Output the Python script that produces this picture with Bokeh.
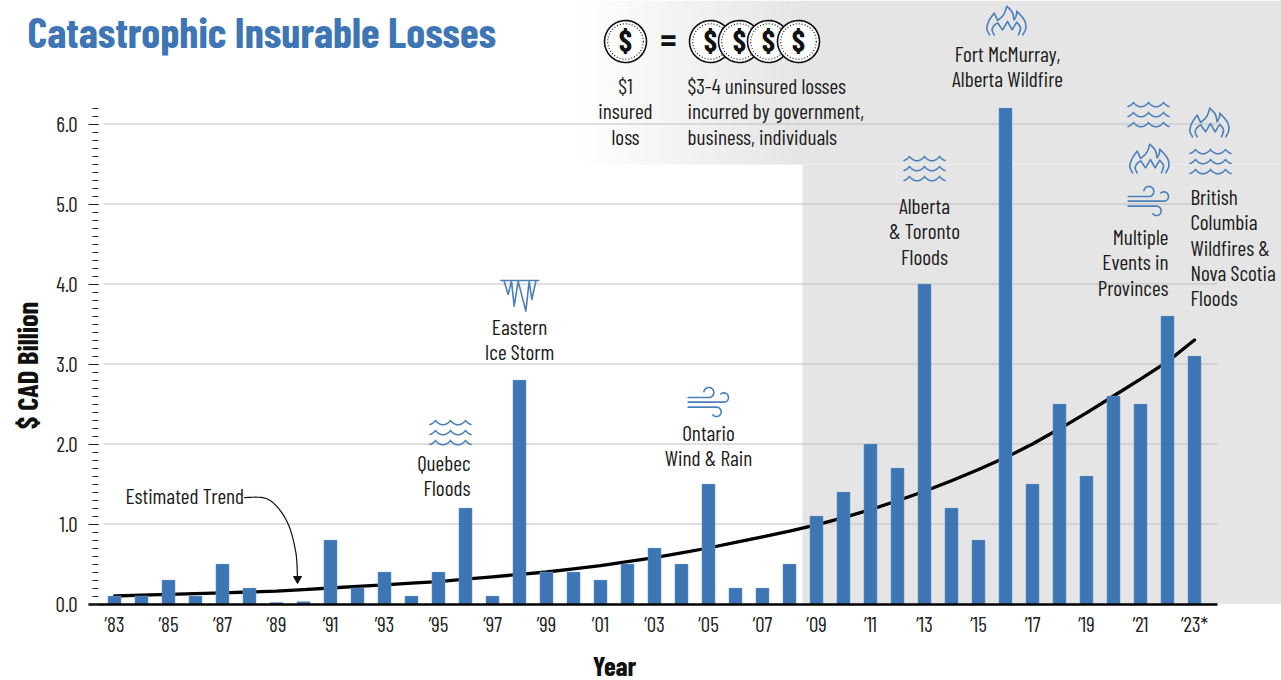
import numpy as np
from bokeh.plotting import figure
from bokeh.embed import file_html
from bokeh.resources import INLINE
from bokeh.models import (Range1d, FixedTicker, ColumnDataSource, BoxAnnotation, Label)
from bokeh.core.properties import value

years = list(range(1983, 2024))
losses = [0.1,0.1,0.3,0.1,0.5,0.2,0.02,0.03,0.8,0.2,0.4,0.1,0.4,1.2,0.1,2.8,0.4,0.4,0.3,0.5,0.7,0.5,1.5,0.2,0.2,0.5,
          1.1,1.4,2.0,1.7,4.0,1.2,0.8,6.2,1.5,2.5,1.6,2.6,2.5,3.6,3.1]
trend = [0.10,0.11,0.12,0.13,0.14,0.15,0.16,0.18,0.20,0.22,
         0.24,0.26,0.28,0.31,0.34,0.37,0.40,0.44,0.48,0.53,
         0.58,0.64,0.70,0.77,0.84,0.91,0.99,1.08,1.18,1.29,
         1.41,1.54,1.68,1.83,2.00,2.19,2.39,2.60,2.81,3.03,3.30]
x_tick_years = list(range(1983, 2024, 2))
x_tick_labels = ["\u201983","\u201985","\u201987","\u201989","\u201991","\u201993","\u201995","\u201997","\u201999","\u201901","\u201903","\u201905","\u201907","\u201909","\u201911","\u201913","\u201915","\u201917","\u201919","\u201921","\u201923*"]
y_ticks = [0,1,2,3,4,5,6]
y_minor = [round(i*0.1,1) for i in range(0,63)]

FONT = "Barlow Condensed"
BLUE = "#3d75b5"
ICON = "#4a7fbb"
GREY = "#e5e5e5"
W, H = 1281, 680
F_B = 603.5
PX_YEAR = 27.0
PX_UNIT = 80.0
def dx(px): return 1983 + (np.asarray(px, float) - 114)/PX_YEAR
def dy(py): return (F_B - np.asarray(py, float))/PX_UNIT

p = figure(width=W, height=H, output_backend="svg", toolbar_location=None,
           x_range=Range1d(float(dx(0)), float(dx(W))), y_range=Range1d(float(dy(H)), float(dy(0))),
           min_border_left=0, min_border_right=0, min_border_top=0, min_border_bottom=0,
           background_fill_color=None, border_fill_color=None, outline_line_color=None)
p.grid.visible = False

def sbox(l, r, t, b, c, level="underlay"):
    p.add_layout(BoxAnnotation(left=float(dx(l)), right=float(dx(r)), top=float(dy(t)), bottom=float(dy(b)),
                               fill_color=c, fill_alpha=1, line_color=None, level=level, editable=False))
sbox(802, W, 164, 603.5, GREY)
n = 40
for i in range(n):
    l = 574 + (802-574)*i/n
    r = 574 + (802-574)*(i+1)/n + 0.5
    t = i/(n-1)
    c = 255 - (255-229)*t
    hx = "#%02x%02x%02x" % (round(c), round(c), round(c))
    sbox(l, r, 0, 164, hx)
sbox(802, W, 0, 164, GREY)

gl_x0 = float(dx(103)); gl_x1 = float(dx(1217))
p.segment([gl_x0]*6, y_ticks[1:], [gl_x1]*6, y_ticks[1:], line_color="#c0c0c0", line_width=1.2)

src = ColumnDataSource(dict(year=years, loss=losses, trend=trend))
p.line("year", "trend", source=src, line_color="black", line_width=3.3, line_cap="round")
p.vbar(x="year", top="loss", bottom=0, width=0.49, source=src, fill_color=BLUE, line_color="#8fb2d9", line_width=0.6, line_alpha=0.6)

xa = p.xaxis[0]
xa.fixed_location = 0
xa.ticker = FixedTicker(ticks=x_tick_years)
xa.major_label_overrides = {y: s for y, s in zip(x_tick_years, x_tick_labels)}
xa.major_label_text_font = FONT
xa.major_label_text_font_size = "21px"
xa.major_label_text_color = "#222222"
xa.major_label_standoff = 1
xa.major_tick_line_color = None
xa.minor_tick_line_color = None
xa.axis_line_color = "black"
xa.axis_line_width = 2.4
xa.bounds = (float(dx(88)), float(dx(1217)))

ya = p.yaxis[0]
ya.fixed_location = float(dx(98))
ya.ticker = FixedTicker(ticks=y_ticks, minor_ticks=y_minor)
ya.major_label_overrides = {t: f"{t}.0" for t in y_ticks}
ya.major_label_text_font = FONT
ya.major_label_text_font_size = "21px"
ya.major_label_text_color = "#222222"
ya.major_label_standoff = 11
ya.axis_line_color = None
ya.major_tick_line_color = "#222222"
ya.major_tick_line_width = 1.2
ya.major_tick_out = 10
ya.major_tick_in = 0
ya.minor_tick_line_color = "#222222"
ya.minor_tick_line_width = 1.2
ya.minor_tick_out = 6
ya.minor_tick_in = 0

p.add_layout(Label(x=float(dx(27)), y=float(dy(30)), text="Catastrophic Insurable Losses",
                   text_font=FONT, text_font_style="bold", text_font_size="42.7px", text_color=BLUE,
                   text_baseline="middle", text_align="left"))
p.add_layout(Label(x=float(dx(614)), y=float(dy(664)), text="Year",
                   text_font=FONT, text_font_style="bold", text_font_size="27px", text_color="#111111",
                   text_baseline="middle", text_align="center"))
p.add_layout(Label(x=float(dx(25.5)), y=float(dy(365)), text="$ CAD Billion", angle=np.pi/2,
                   text_font=FONT, text_font_style="bold", text_font_size="28.5px", text_color="#111111",
                   text_baseline="middle", text_align="center"))

def txt(px, py, lines, align="center", size=21.3):
    for i, s in enumerate(lines):
        p.text([float(dx(px))], [float(dy(py - 2 + i*25.3))], text=[s], text_font=value(FONT),
               text_font_size=f"{size}px", text_color="#1c1c1c", text_align=align, text_baseline="middle")

txt(625, 87, ["$1", "insured", "loss"])
txt(687, 87, ["$3-4 uninsured losses", "incurred by government,", "business, individuals"], align="left")
txt(1007, 55, ["Fort McMurray,", "Alberta Wildfire"])
txt(924, 207, ["Alberta", "& Toronto", "Floods"])
txt(1168, 238, ["Multiple", "Events in", "Provinces"], align="right")
txt(1190, 198, ["British", "Columbia", "Wildfires &", "Nova Scotia", "Floods"], align="left")
txt(470, 464, ["Quebec", "Floods"], align="right")
txt(519, 328, ["Eastern", "Ice Storm"])
txt(708, 434, ["Ontario", "Wind & Rain"])
txt(125, 497, ["Estimated Trend"], align="left")

def spline(pts, k=10):
    pts = np.asarray(pts, float)
    P = np.vstack([pts[0], pts, pts[-1]])
    out = []
    for i in range(1, len(P)-2):
        for t in np.linspace(0, 1, k, endpoint=False):
            a, b, c, d = P[i-1], P[i], P[i+1], P[i+2]
            out.append(0.5*((2*b)+(-a+c)*t+(2*a-5*b+4*c-d)*t*t+(-a+3*b-3*c+d)*t**3))
    out.append(P[-2])
    return np.array(out)

def pieces(*parts):
    return np.vstack([spline(q) for q in parts])

def draw(polys, color=ICON, w=1.6):
    p.multi_line([list(dx(a[:,0])) for a in polys], [list(dy(a[:,1])) for a in polys],
                 line_color=color, line_width=w, line_join="round", line_cap="round")

def waves(cx, cy):
    polys = []
    for r in (-10, 0, 10):
        t = np.linspace(-1, 1, 161)*20.5
        y = np.abs(np.sin(t*np.pi/15))**0.8*4.5 - 2.2
        polys.append(np.column_stack([cx+t, cy+r+y]))
    draw(polys)

OUTER = pieces([(158,243),(150,224),(157,200),(172,178)], [(172,178),(177,188),(182,200)],
               [(182,200),(200,183),(210,157)], [(210,157),(226,175),(232,198)],
               [(232,198),(238,186),(240,172)], [(240,172),(262,198),(267,222),(258,243)])
INNER = pieces([(172,243),(166,228),(172,215),(183,207)], [(183,207),(190,218),(197,228)],
               [(197,228),(205,215),(212,203)], [(212,203),(219,216),(226,228)],
               [(226,228),(233,216),(240,205)], [(240,205),(251,222),(245,243)])
def flame(cx, cy):
    s = 1/3
    c = np.array([209,200])
    draw([(OUTER-c)*s + [cx,cy], (INNER-c)*s + [cx,cy]])

def arc(cx, cy, r, a0, a1):
    a = np.radians(np.linspace(a0, a1, 40))
    return np.column_stack([cx+r*np.cos(a), cy+r*np.sin(a)])

def wind(cx, cy):
    s = 1/3
    c = np.array([204,330])
    top = np.vstack([[(143,318),(205,318)], arc(205,303,15,90,-170)])
    mid = np.vstack([[(143,332),(250,332)], arc(250,318,14,90,-130)])
    bot = np.vstack([[(143,347),(228,347)], arc(228,361,14,-90,140)])
    draw([(a-c)*s+[cx,cy] for a in (top,mid,bot)])

def icicle(cx, top):
    s = 1/3
    pts = np.array([(310,30),(322,70),(332,30),(340,105),(352,30),(375,120),(385,30),(393,85),(405,30)], float)
    line = np.array([(300,28),(413,28)], float)
    c = np.array([356,28])
    draw([(pts-c)*s+[cx,top], (line-c)*s+[cx,top]])

def coin(cx, cy, r=21):
    a = arc(cx, cy, r, 0, 360)
    p.patch(list(dx(a[:,0])), list(dy(a[:,1])), fill_color="white", line_color="#111111", line_width=1.6)
    b = arc(cx, cy, r-3.2, 0, 360)
    p.line(list(dx(b[:,0])), list(dy(b[:,1])), line_color="#111111", line_width=1.2, line_dash="1 2")
    p.text([float(dx(cx))], [float(dy(cy-2))], text=["$"], text_font=value(FONT), text_font_style="bold", text_font_size="30px",
           text_color="#111111", text_align="center", text_baseline="middle")

waves(450, 432); waves(924, 168); waves(1148, 114); waves(1210, 161)
flame(1006, 20); flame(1149, 158); flame(1209, 122)
wind(708, 401); wind(1148, 200)
icicle(519, 280)
coin(625, 41)
for c in (710, 739, 768, 798):
    coin(c, 41)
p.text([float(dx(668))], [float(dy(37))], text=["="], text_font=value(FONT), text_font_style="bold", text_font_size="36px",
       text_color="#111111", text_align="center", text_baseline="middle")

arr = spline([(244,497),(268,499),(286,520),(295,550),(297,577)])
draw([arr], color="#111111", w=1.2)
p.patch(list(dx([293,301,297])), list(dy([576,576,583])), fill_color="#111111", line_color="#111111")

open("out.html", "w").write(file_html(p, INLINE))
